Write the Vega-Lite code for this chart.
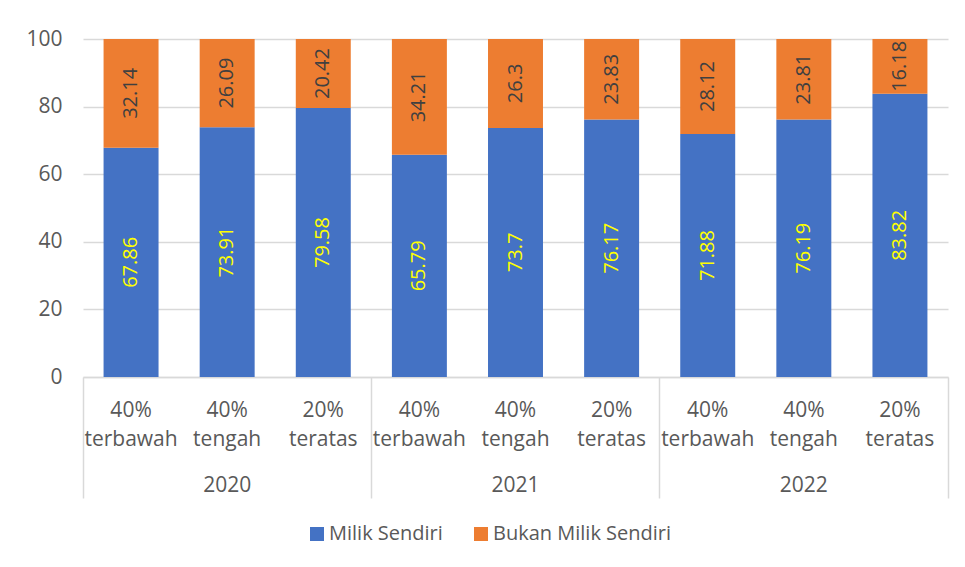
{
  "$schema": "https://vega.github.io/schema/vega-lite/v6.json",
  "autosize": {"type": "none"},
  "padding": {"left": 83, "top": 39, "right": 17, "bottom": 190},
  "width": 865,
  "height": 338,
  "config": {
    "font": "Open Sans",
    "view": {"stroke": null},
    "axis": {"labelFont": "Open Sans", "labelColor": "#595959", "labelFontSize": 21}
  },
  "data": {
    "values": [
      {"tahun": "2020", "kelompok": "40% terbawah", "kategori": "2020|40% terbawah", "status": "Milik Sendiri", "persen": 67.86},
      {"tahun": "2020", "kelompok": "40% terbawah", "kategori": "2020|40% terbawah", "status": "Bukan Milik Sendiri", "persen": 32.14},
      {"tahun": "2020", "kelompok": "40% tengah", "kategori": "2020|40% tengah", "status": "Milik Sendiri", "persen": 73.91},
      {"tahun": "2020", "kelompok": "40% tengah", "kategori": "2020|40% tengah", "status": "Bukan Milik Sendiri", "persen": 26.09},
      {"tahun": "2020", "kelompok": "20% teratas", "kategori": "2020|20% teratas", "status": "Milik Sendiri", "persen": 79.58},
      {"tahun": "2020", "kelompok": "20% teratas", "kategori": "2020|20% teratas", "status": "Bukan Milik Sendiri", "persen": 20.42},
      {"tahun": "2021", "kelompok": "40% terbawah", "kategori": "2021|40% terbawah", "status": "Milik Sendiri", "persen": 65.79},
      {"tahun": "2021", "kelompok": "40% terbawah", "kategori": "2021|40% terbawah", "status": "Bukan Milik Sendiri", "persen": 34.21},
      {"tahun": "2021", "kelompok": "40% tengah", "kategori": "2021|40% tengah", "status": "Milik Sendiri", "persen": 73.7},
      {"tahun": "2021", "kelompok": "40% tengah", "kategori": "2021|40% tengah", "status": "Bukan Milik Sendiri", "persen": 26.3},
      {"tahun": "2021", "kelompok": "20% teratas", "kategori": "2021|20% teratas", "status": "Milik Sendiri", "persen": 76.17},
      {"tahun": "2021", "kelompok": "20% teratas", "kategori": "2021|20% teratas", "status": "Bukan Milik Sendiri", "persen": 23.83},
      {"tahun": "2022", "kelompok": "40% terbawah", "kategori": "2022|40% terbawah", "status": "Milik Sendiri", "persen": 71.88},
      {"tahun": "2022", "kelompok": "40% terbawah", "kategori": "2022|40% terbawah", "status": "Bukan Milik Sendiri", "persen": 28.12},
      {"tahun": "2022", "kelompok": "40% tengah", "kategori": "2022|40% tengah", "status": "Milik Sendiri", "persen": 76.19},
      {"tahun": "2022", "kelompok": "40% tengah", "kategori": "2022|40% tengah", "status": "Bukan Milik Sendiri", "persen": 23.81},
      {"tahun": "2022", "kelompok": "20% teratas", "kategori": "2022|20% teratas", "status": "Milik Sendiri", "persen": 83.82},
      {"tahun": "2022", "kelompok": "20% teratas", "kategori": "2022|20% teratas", "status": "Bukan Milik Sendiri", "persen": 16.18}
    ]
  },
  "resolve": {"scale": {"x": "independent"}, "axis": {"x": "independent"}},
  "layer": [
    {
      "encoding": {
        "x": {
          "field": "kategori", "type": "nominal", "sort": null,
          "scale": {"paddingInner": 0.428, "paddingOuter": 0.214},
          "axis": {
            "orient": "bottom", "title": null, "ticks": false, "tickSize": 0,
            "domain": true, "domainColor": "#d9d9d9", "domainWidth": 1.5,
            "labelAngle": 0, "labelPadding": 22, "labelLineHeight": 29,
            "labelBaseline": "top",
            "labelExpr": "split(split(datum.value, '|')[1], ' ')"
          }
        },
        "y": {
          "field": "persen", "type": "quantitative", "stack": "zero",
          "scale": {"domain": [0, 100], "nice": false},
          "axis": {
            "title": null, "values": [0, 20, 40, 60, 80, 100],
            "domain": false, "ticks": false, "labelPadding": 21,
            "grid": true, "gridColor": "#d9d9d9", "gridWidth": 1.5
          }
        },
        "order": {"field": "status", "sort": "descending"}
      },
      "layer": [
        {
          "mark": {"type": "bar"},
          "encoding": {
            "color": {
              "field": "status", "type": "nominal",
              "scale": {"domain": ["Milik Sendiri", "Bukan Milik Sendiri"], "range": ["#4472C4", "#ED7D31"]},
              "legend": {
                "title": null, "orient": "none", "legendX": 224, "legendY": 485,
                "direction": "horizontal", "symbolType": "square", "symbolSize": 196,
                "symbolStrokeWidth": 0, "labelFont": "Open Sans", "labelFontSize": 20,
                "labelColor": "#595959", "labelOffset": 2, "columnPadding": 28, "padding": 0,
                "labelLimit": 400
              }
            }
          }
        },
        {
          "mark": {"type": "text", "angle": -90, "align": "center", "baseline": "middle", "font": "Open Sans", "fontSize": 20},
          "encoding": {
            "y": {"field": "persen", "type": "quantitative", "stack": "zero", "bandPosition": 0.5},
            "detail": {"field": "status"},
            "text": {"field": "persen", "type": "quantitative"},
            "color": {
              "condition": {"test": "datum.status == 'Milik Sendiri'", "value": "#FFFF00"},
              "value": "#404040"
            }
          }
        }
      ]
    },
    {
      "mark": {"type": "rule", "strokeOpacity": 0},
      "encoding": {
        "x": {
          "field": "tahun", "type": "nominal", "sort": null,
          "scale": {"paddingInner": 0, "paddingOuter": 0},
          "axis": {
            "orient": "bottom", "title": null, "domain": false, "grid": false,
            "ticks": true, "tickExtra": true, "bandPosition": 1,
            "tickSize": 121, "tickColor": "#d9d9d9", "tickWidth": 1.5,
            "labelAngle": 0, "labelPadding": -24, "labelBaseline": "top"
          }
        }
      }
    }
  ]
}
